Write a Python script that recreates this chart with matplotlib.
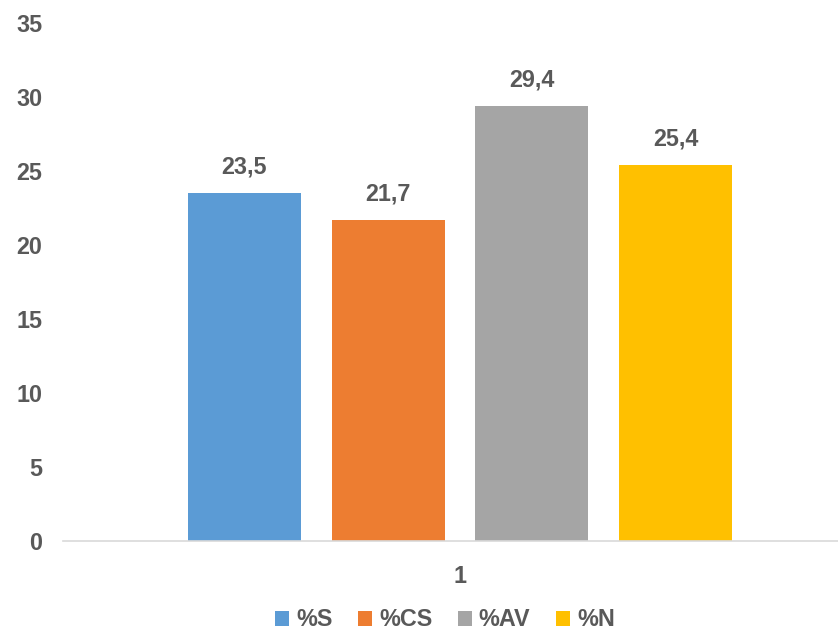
import matplotlib.pyplot as plt
import numpy as np

#### Data ####

series = ['%S', '%CS', '%AV', '%N']
values = [23.5, 21.7, 29.4, 25.4]
colors = ['#5b9bd5', '#ed7d31', '#a5a5a5', '#ffc000']
category = '1'

#### Plot ####

plt.rcParams['font.family'] = ['Liberation Sans', 'DejaVu Sans']
text_color = '#595959'
fs = 16.8

fig = plt.figure(figsize=(8.38, 6.33), dpi=100)
ax = fig.add_axes([63 / 838, 1 - 541 / 633, 1 - 63 / 838, (541 - 23) / 633])

x = np.arange(len(values))
for i, (name, v, c) in enumerate(zip(series, values, colors)):
    ax.bar(x[i], v, width=0.787, color=c, label=name, zorder=2)
    ax.text(x[i], v + 1.0, f'{v:.1f}'.replace('.', ','), ha='center', va='bottom',
            fontsize=fs, fontweight='bold', color=text_color)

ax.set_xlim(-1.261, 4.129)
ax.set_ylim(0, 35)
ax.set_yticks(range(0, 36, 5))
ax.set_xticks([x.mean()])
ax.set_xticklabels([category])

for side in ['top', 'right', 'left']:
    ax.spines[side].set_visible(False)
ax.spines['bottom'].set_color('#d9d9d9')
ax.spines['bottom'].set_linewidth(1.2)

ax.tick_params(axis='y', length=0, pad=15, labelsize=fs, labelcolor=text_color)
ax.tick_params(axis='x', length=0, pad=17, labelsize=fs, labelcolor=text_color)
for lab in ax.get_xticklabels() + ax.get_yticklabels():
    lab.set_fontweight('bold')

leg = fig.legend(loc='center', bbox_to_anchor=(0.531, 1 - 620 / 633), ncol=4,
                 frameon=False, handlelength=0.6, handleheight=0.6,
                 handletextpad=0.3, columnspacing=1.1,
                 prop={'size': fs, 'weight': 'bold'})
for t in leg.get_texts():
    t.set_color(text_color)

fig.savefig('out.png', dpi=100)
